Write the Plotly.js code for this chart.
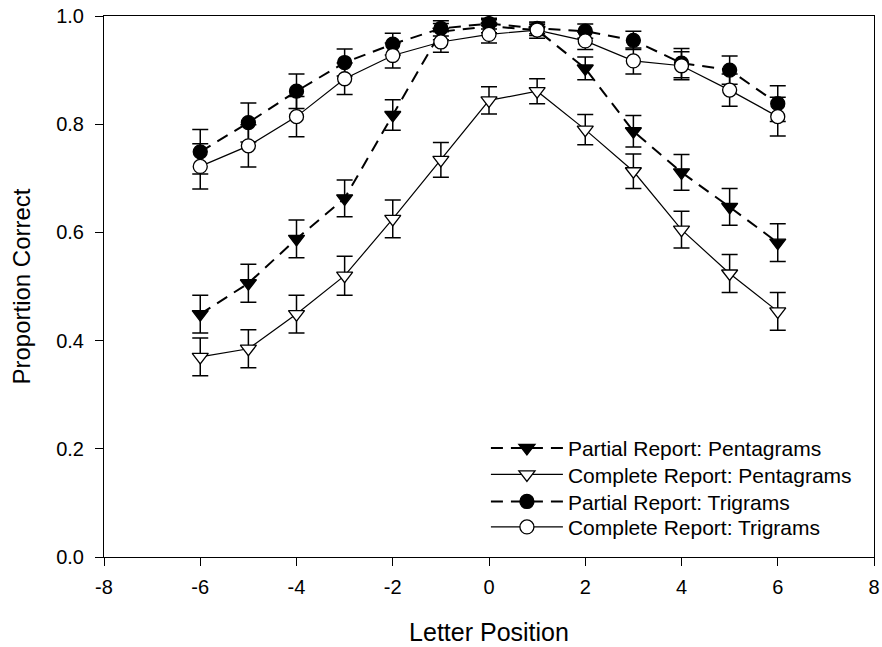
<!DOCTYPE html>
<html>
<head>
<meta charset="utf-8">
<script src="https://cdn.plot.ly/plotly-3.0.1.min.js"></script>
<style>html,body{margin:0;padding:0;background:#fff;}#chart{width:882px;height:647px;}</style>
</head>
<body>
<div id="chart"></div>
<script>
const positions = [-6, -5, -4, -3, -2, -1, 0, 1, 2, 3, 4, 5, 6];

const partialPenta = [0.449, 0.506, 0.588, 0.663, 0.817, 0.971, 0.981, 0.974, 0.903, 0.787, 0.711, 0.647, 0.581];
const partialPentaErr = [0.035, 0.035, 0.035, 0.034, 0.028, 0.015, 0.012, 0.015, 0.021, 0.029, 0.033, 0.034, 0.035];

const completePenta = [0.370, 0.385, 0.449, 0.520, 0.625, 0.734, 0.844, 0.861, 0.790, 0.713, 0.605, 0.524, 0.454];
const completePentaErr = [0.035, 0.035, 0.035, 0.036, 0.035, 0.032, 0.025, 0.023, 0.028, 0.032, 0.034, 0.035, 0.035];

const partialTri = [0.749, 0.803, 0.861, 0.914, 0.948, 0.977, 0.986, 0.977, 0.972, 0.955, 0.913, 0.900, 0.838];
const partialTriErr = [0.041, 0.036, 0.032, 0.025, 0.020, 0.014, 0.010, 0.010, 0.013, 0.017, 0.027, 0.026, 0.033];

const completeTri = [0.722, 0.760, 0.814, 0.884, 0.927, 0.952, 0.966, 0.974, 0.954, 0.917, 0.908, 0.863, 0.814];
const completeTriErr = [0.042, 0.039, 0.037, 0.029, 0.023, 0.019, 0.016, 0.010, 0.016, 0.024, 0.026, 0.030, 0.036];

const seriesNames = ["Partial Report: Pentagrams", "Complete Report: Pentagrams", "Partial Report: Trigrams", "Complete Report: Trigrams"];
const xTickVals = [-8, -6, -4, -2, 0, 2, 4, 6, 8];
const xTickText = ["-8", "-6", "-4", "-2", "0", "2", "4", "6", "8"];
const yTickVals = [0, 0.2, 0.4, 0.6, 0.8, 1.0];
const yTickText = ["0.0", "0.2", "0.4", "0.6", "0.8", "1.0"];

function mk(name, y, err, symbol, fill, dashed, legendId) {
  return {
    type: "scatter", mode: "lines+markers", name: name, x: positions, y: y,
    legend: legendId,
    line: {color: "#000", width: dashed ? 2 : 1.2, dash: dashed ? "12px,8px" : "solid"},
    marker: {symbol: symbol, size: 14, color: fill, line: {color: "#000", width: 1.3}},
    error_y: {type: "data", array: err, visible: true, color: "#000", thickness: 1.5, width: 8}
  };
}

const data = [
  mk(seriesNames[0], partialPenta, partialPentaErr, "triangle-down", "#000", true, "legend"),
  mk(seriesNames[1], completePenta, completePentaErr, "triangle-down", "#fff", false, "legend2"),
  mk(seriesNames[2], partialTri, partialTriErr, "circle", "#000", true, "legend3"),
  mk(seriesNames[3], completeTri, completeTriErr, "circle", "#fff", false, "legend4")
];

function leg(y) {
  return {
    x: 0.496, y: y, xanchor: "left", yanchor: "middle",
    bgcolor: "rgba(0,0,0,0)", borderwidth: 0,
    font: {size: 21, color: "#000"}, itemwidth: 72
  };
}

const layout = {
  width: 882, height: 647,
  margin: {l: 104, r: 8, t: 16, b: 90},
  paper_bgcolor: "#fff", plot_bgcolor: "#fff",
  font: {family: "Liberation Sans, Arial, sans-serif", color: "#000", size: 20},
  showlegend: true,
  legend: leg(0.201),
  legend2: leg(0.152),
  legend3: leg(0.102),
  legend4: leg(0.055),
  xaxis: {
    range: [-8, 8], tickmode: "array", tickvals: xTickVals, ticktext: xTickText,
    ticks: "outside", ticklen: 8, tickwidth: 1, tickcolor: "#000",
    showline: true, linecolor: "#000", linewidth: 1, mirror: true,
    showgrid: false, zeroline: false,
    tickfont: {size: 20}, ticklabelstandoff: 4,
    title: {text: "Letter Position", font: {size: 25}, standoff: 26}
  },
  yaxis: {
    range: [0, 1], tickmode: "array", tickvals: yTickVals, ticktext: yTickText,
    ticks: "outside", ticklen: 8, tickwidth: 1, tickcolor: "#000",
    showline: true, linecolor: "#000", linewidth: 1, mirror: true,
    showgrid: false, zeroline: false,
    tickfont: {size: 20}, ticklabelstandoff: 7,
    title: {text: "Proportion Correct", font: {size: 24}, standoff: 18}
  }
};

Plotly.newPlot("chart", data, layout, {displayModeBar: false, staticPlot: true});
</script>
</body>
</html>
